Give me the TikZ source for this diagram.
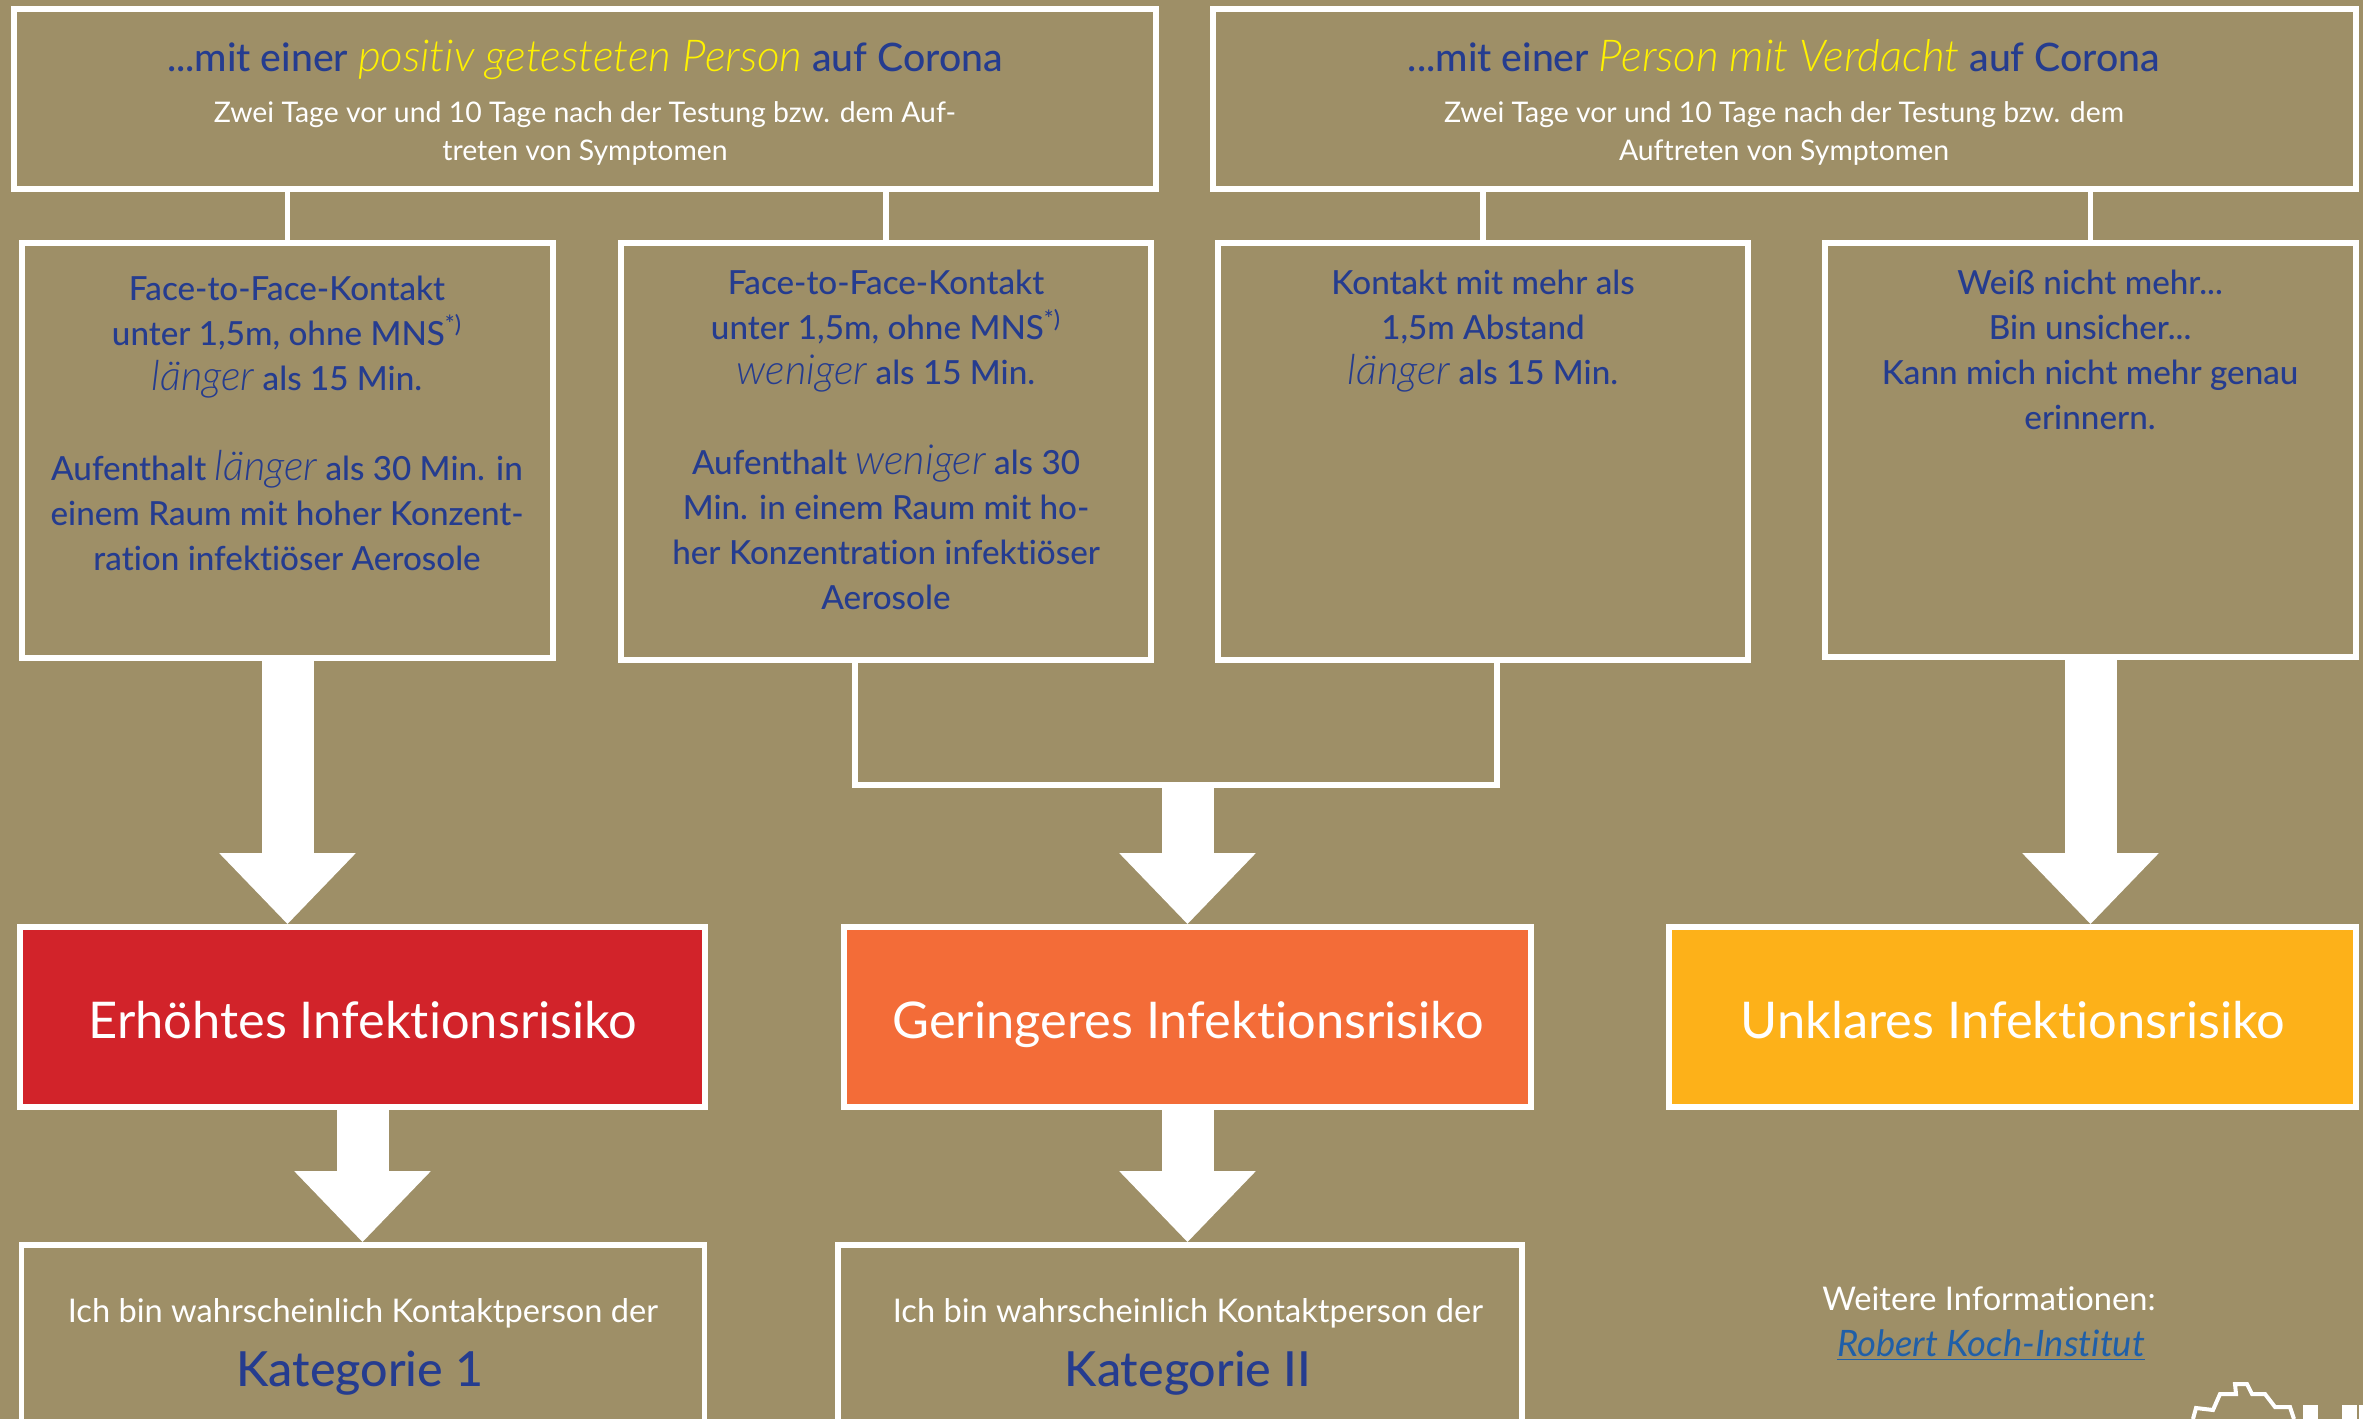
\documentclass[tikz,border=0pt]{standalone}
\usepackage{fontspec}
\defaultfontfeatures{Ligatures={TeX,NoCommon}}
\setmainfont{Lato Medium}
\newfontfamily\lightfont{Lato Light}
\newfontfamily\whitefont{Lato}
\newfontfamily\slantfont[Scale=1.25]{Lato Light}
\usetikzlibrary{arrows.meta}
\definecolor{bgtan}{HTML}{9E8F67}
\definecolor{inkblue}{HTML}{253C8F}
\definecolor{linkblue}{HTML}{1F5FA8}
\definecolor{signyellow}{HTML}{FFF200}
\definecolor{riskred}{HTML}{D2232A}
\definecolor{riskorange}{HTML}{F36C38}
\definecolor{riskyellow}{HTML}{FDB119}
\newcommand{\warm}[1]{\textcolor{signyellow}{\lightfont\itshape\fontsize{22}{24}\selectfont #1}}
\newcommand{\slant}[1]{{\slantfont\itshape #1}}
\tikzset{
  framebox/.style 2 args={draw=white,line width=2.8pt,minimum width=#1*0.5pt,minimum height=#2*0.5pt,inner sep=0pt},
  heading/.style={anchor=base,text=inkblue,font=\fontsize{19.6}{24}\selectfont},
  subhead/.style={text=white,align=center,font=\whitefont\fontsize{14.2}{19}\selectfont},
  bluetext/.style={text=inkblue,align=center,font=\fontsize{16.6}{22.5}\selectfont},
  risktext/.style={anchor=base,text=white,font=\whitefont\fontsize{25.3}{32}\selectfont},
  kattext/.style={anchor=base,text=white,font=\whitefont\fontsize{16.3}{20}\selectfont},
  katname/.style={anchor=base,text=inkblue,font=\fontsize{24.2}{28}\selectfont},
  thinline/.style={draw=white,line width=2.8pt},
  bigarrow/.style={draw=white,line width=26pt,-{Triangle[width=66pt,length=35.5pt]}}
}
\begin{document}
\begin{tikzpicture}[x=0.5pt,y=-0.5pt]
  \useasboundingbox (0,0) rectangle (2363,1419);
  \clip (0,0) rectangle (2363,1419);
  \fill[bgtan] (0,0) rectangle (2363,1419);

  \node[framebox={1142}{180}] (top1) at (585,99) {};
  \node[framebox={1143}{180}] (top2) at (1784.5,99) {};
  \node[framebox={531}{415}] (a) at (287.5,450.5) {};
  \node[framebox={530}{417}] (b) at (886,451.5) {};
  \node[framebox={530}{417}] (c) at (1483,451.5) {};
  \node[framebox={531}{414}] (d) at (2090.5,450) {};
  \node[framebox={685}{180},fill=riskred] (red) at (362.5,1017) {};
  \node[framebox={687}{180},fill=riskorange] (orange) at (1187.5,1017) {};
  \node[framebox={687}{180},fill=riskyellow] (yellow) at (2012.5,1017) {};
  \node[framebox={683}{205}] (kat1) at (363,1347.5) {};
  \node[framebox={684}{205}] (kat2) at (1180,1347.5) {};

  \node[heading] (head1) at (585,71) {...mit einer \warm{positiv getesteten Person} auf Corona};
  \node[subhead] (sub1) at (585,133) {Zwei Tage vor und 10 Tage nach der Testung bzw. dem Auf-\\treten von Symptomen};
  \node[heading] (head2) at (1784,71) {...mit einer \warm{Person mit Verdacht} auf Corona};
  \node[subhead] (sub2) at (1784,133) {Zwei Tage vor und 10 Tage nach der Testung bzw. dem\\Auftreten von Symptomen};

  \node[bluetext] (atext) at (287,423) {Face-to-Face-Kontakt\\unter 1,5m, ohne MNS\textsuperscript{*)}\\\slant{länger} als 15 Min.\\[22.5pt]Aufenthalt \slant{länger} als 30 Min. in\\einem Raum mit hoher Konzent-\\ration infektiöser Aerosole};
  \node[bluetext] (btext) at (886,440) {Face-to-Face-Kontakt\\unter 1,5m, ohne MNS\textsuperscript{*)}\\\slant{weniger} als 15 Min.\\[22.5pt]Aufenthalt \slant{weniger} als 30\\Min. in einem Raum mit ho-\\her Konzentration infektiöser\\Aerosole};
  \node[bluetext] (ctext) at (1483,331) {Kontakt mit mehr als\\1,5m Abstand\\\slant{länger} als 15 Min.};
  \node[bluetext] (dtext) at (2090,350) {Weiß nicht mehr...\\Bin unsicher...\\Kann mich nicht mehr genau\\erinnern.};

  \node[risktext] (redtext) at (363,1038) {Erhöhtes Infektionsrisiko};
  \node[risktext] (orangetext) at (1188,1038) {Geringeres Infektionsrisiko};
  \node[risktext] (yellowtext) at (2013,1038) {Unklares Infektionsrisiko};

  \node[kattext] (kat1text) at (363,1322) {Ich bin wahrscheinlich Kontaktperson der};
  \node[katname] (kat1name) at (360,1386) {Kategorie 1};
  \node[kattext] (kat2text) at (1188,1322) {Ich bin wahrscheinlich Kontaktperson der};
  \node[katname] (kat2name) at (1188,1386) {Kategorie II};

  \node[kattext] (info) at (1989,1310) {Weitere Informationen:};
  \node[kattext,text=linkblue,font=\whitefont\itshape\fontsize{18.2}{24}\selectfont] (rki) at (1991,1356) {\underline{Robert Koch-Institut}};

  \draw[thinline] (a.north) -- (a.north |- top1.south);
  \draw[thinline] (b.north) -- (b.north |- top1.south);
  \draw[thinline] (c.north) -- (c.north |- top2.south);
  \draw[thinline] (d.north) -- (d.north |- top2.south);

  \coordinate (brl) at (855,785);
  \coordinate (brr) at (1497,785);
  \coordinate (brm) at (orange.north |- brl);
  \draw[thinline] (brl |- b.south) -- (brl) -- (brr) -- (brr |- c.south);

  \draw[bigarrow] (a.south) -- (a.south |- red.north);
  \draw[bigarrow] (brm) -- (orange.north);
  \draw[bigarrow] (d.south) -- (d.south |- yellow.north);
  \draw[bigarrow] (red.south) -- (red.south |- kat1.north);
  \draw[bigarrow] (orange.south) -- (orange.south |- kat2.north);

  \draw[white,line width=2pt] (2193,1419) -- (2196,1408) -- (2213,1410) -- (2220,1394) -- (2236,1394) -- (2235,1384) -- (2247,1384) -- (2252,1394) -- (2265,1394) -- (2275,1407) -- (2290,1407) -- (2294,1419);
  \fill[white] (2303,1405) rectangle (2318,1419);
  \fill[white] (2342,1405) rectangle (2357,1419);
  \fill[white] (2359,1405) rectangle (2363,1419);
\end{tikzpicture}
\end{document}
